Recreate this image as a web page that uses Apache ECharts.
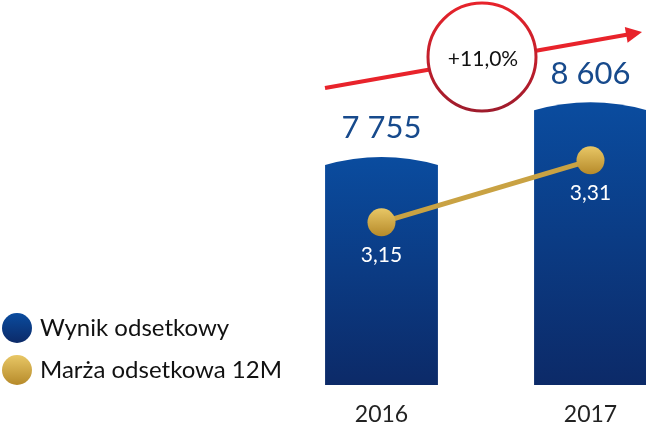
<!DOCTYPE html>
<html>
<head>
<meta charset="utf-8">
<title>Wynik odsetkowy</title>
<script src="https://cdn.jsdelivr.net/npm/echarts@6/dist/echarts.min.js"></script>
<style>
  html, body { margin: 0; padding: 0; background: #fff; }
  #chart { width: 646px; height: 431px; }
</style>
</head>
<body>
<div id="chart"></div>
<script>
// data
var years = ["2016", "2017"];
var wynik = [7755, 8606];        // Wynik odsetkowy
var marza = [3.15, 3.31];        // Marza odsetkowa 12M
var growthLabel = "+11,0%";
var seriesNames = ["Wynik odsetkowy", "Marża odsetkowa 12M"];

var FONT = "Lato";
var BAR_MIN = 4200;

function spaced(v) {
  return String(v).replace(/\B(?=(\d{3})+(?!\d))/g, " ");
}

var blueFill = new echarts.graphic.LinearGradient(0, 0, 0, 1, [
  { offset: 0, color: "#0a4c9f" },
  { offset: 1, color: "#0c2a68" }
]);
var goldFill = new echarts.graphic.LinearGradient(0, 0, 0, 1, [
  { offset: 0, color: "#e8c766" },
  { offset: 1, color: "#b68a2a" }
]);

var chart = echarts.init(document.getElementById("chart"));

chart.setOption({
  animation: false,
  // categories sit on the grid edges (boundaryGap false), 2017 bar runs off the page
  grid: { left: 381.5, right: 55.5, top: 77, bottom: 46 },
  legend: {
    orient: "vertical",
    left: 2,
    top: 313,
    padding: 0,
    itemGap: 12,
    itemWidth: 30,
    itemHeight: 30,
    textStyle: { fontFamily: FONT, fontSize: 24, color: "#111", padding: [0, 0, 0, 3] },
    data: [
      { name: seriesNames[0], icon: "circle", itemStyle: { color: blueFill } },
      { name: seriesNames[1], icon: "circle", itemStyle: { color: goldFill } }
    ]
  },
  xAxis: {
    type: "category",
    data: years,
    boundaryGap: false,
    axisLine: { show: false },
    axisTick: { show: false },
    axisLabel: { margin: 18, fontFamily: FONT, fontSize: 23, color: "#222" }
  },
  yAxis: [
    { type: "value", min: BAR_MIN, max: 9000, show: false },
    { type: "value", min: 2.73, max: 3.525, show: false }
  ],
  series: [
    {
      name: seriesNames[0],
      type: "custom",
      clip: false,
      itemStyle: { color: blueFill },
      data: wynik.map(function (v, i) { return [i, v]; }),
      renderItem: function (params, api) {
        var top = api.coord([api.value(0), api.value(1)]);
        var base = api.coord([api.value(0), BAR_MIN]);
        var w = api.size([1, 0])[0] * 0.54;
        var l = top[0] - w / 2, r = top[0] + w / 2, t = top[1], b = base[1];
        var d = "M" + l + "," + (t + 8) +
                " Q" + top[0] + "," + (t - 8) + " " + r + "," + (t + 8) +
                " L" + r + "," + b + " L" + l + "," + b + " Z";
        return {
          type: "group",
          children: [
            {
              type: "path",
              shape: { pathData: d },
              style: { fill: blueFill }
            },
            {
              type: "text",
              x: top[0],
              y: t - 13,
              style: {
                text: spaced(api.value(1)),
                fill: "#174a8c",
                font: "31px " + FONT,
                align: "center",
                verticalAlign: "bottom"
              }
            }
          ]
        };
      }
    },
    {
      name: seriesNames[1],
      type: "line",
      yAxisIndex: 1,
      z: 5,
      data: marza,
      symbol: "circle",
      symbolSize: 28,
      lineStyle: { width: 5, color: "#c9a243" },
      itemStyle: { color: goldFill },
      label: {
        show: true,
        position: "bottom",
        distance: 8,
        color: "#fff",
        fontFamily: FONT,
        fontSize: 21,
        formatter: function (p) { return p.value.toFixed(2).replace(".", ","); }
      }
    }
  ],
  graphic: [
    {
      type: "line",
      shape: { x1: 325, y1: 88, x2: 628, y2: 34.5 },
      style: { stroke: "#e8232b", lineWidth: 4 },
      z: 10
    },
    {
      type: "polygon",
      shape: { points: [[642, 32], [627.6, 42.7], [624.8, 26.9]] },
      style: { fill: "#e8232b" },
      z: 10
    },
    {
      type: "circle",
      shape: { cx: 482, cy: 57, r: 54 },
      style: {
        fill: "#fff",
        lineWidth: 3,
        stroke: new echarts.graphic.LinearGradient(0, 0, 0, 1, [
          { offset: 0, color: "#e8232b" },
          { offset: 1, color: "#9e1b2c" }
        ])
      },
      z: 11
    },
    {
      type: "text",
      x: 483,
      y: 59,
      style: {
        text: growthLabel,
        font: "21px " + FONT,
        fill: "#111",
        align: "center",
        verticalAlign: "middle"
      },
      z: 12
    }
  ]
});
</script>
</body>
</html>
